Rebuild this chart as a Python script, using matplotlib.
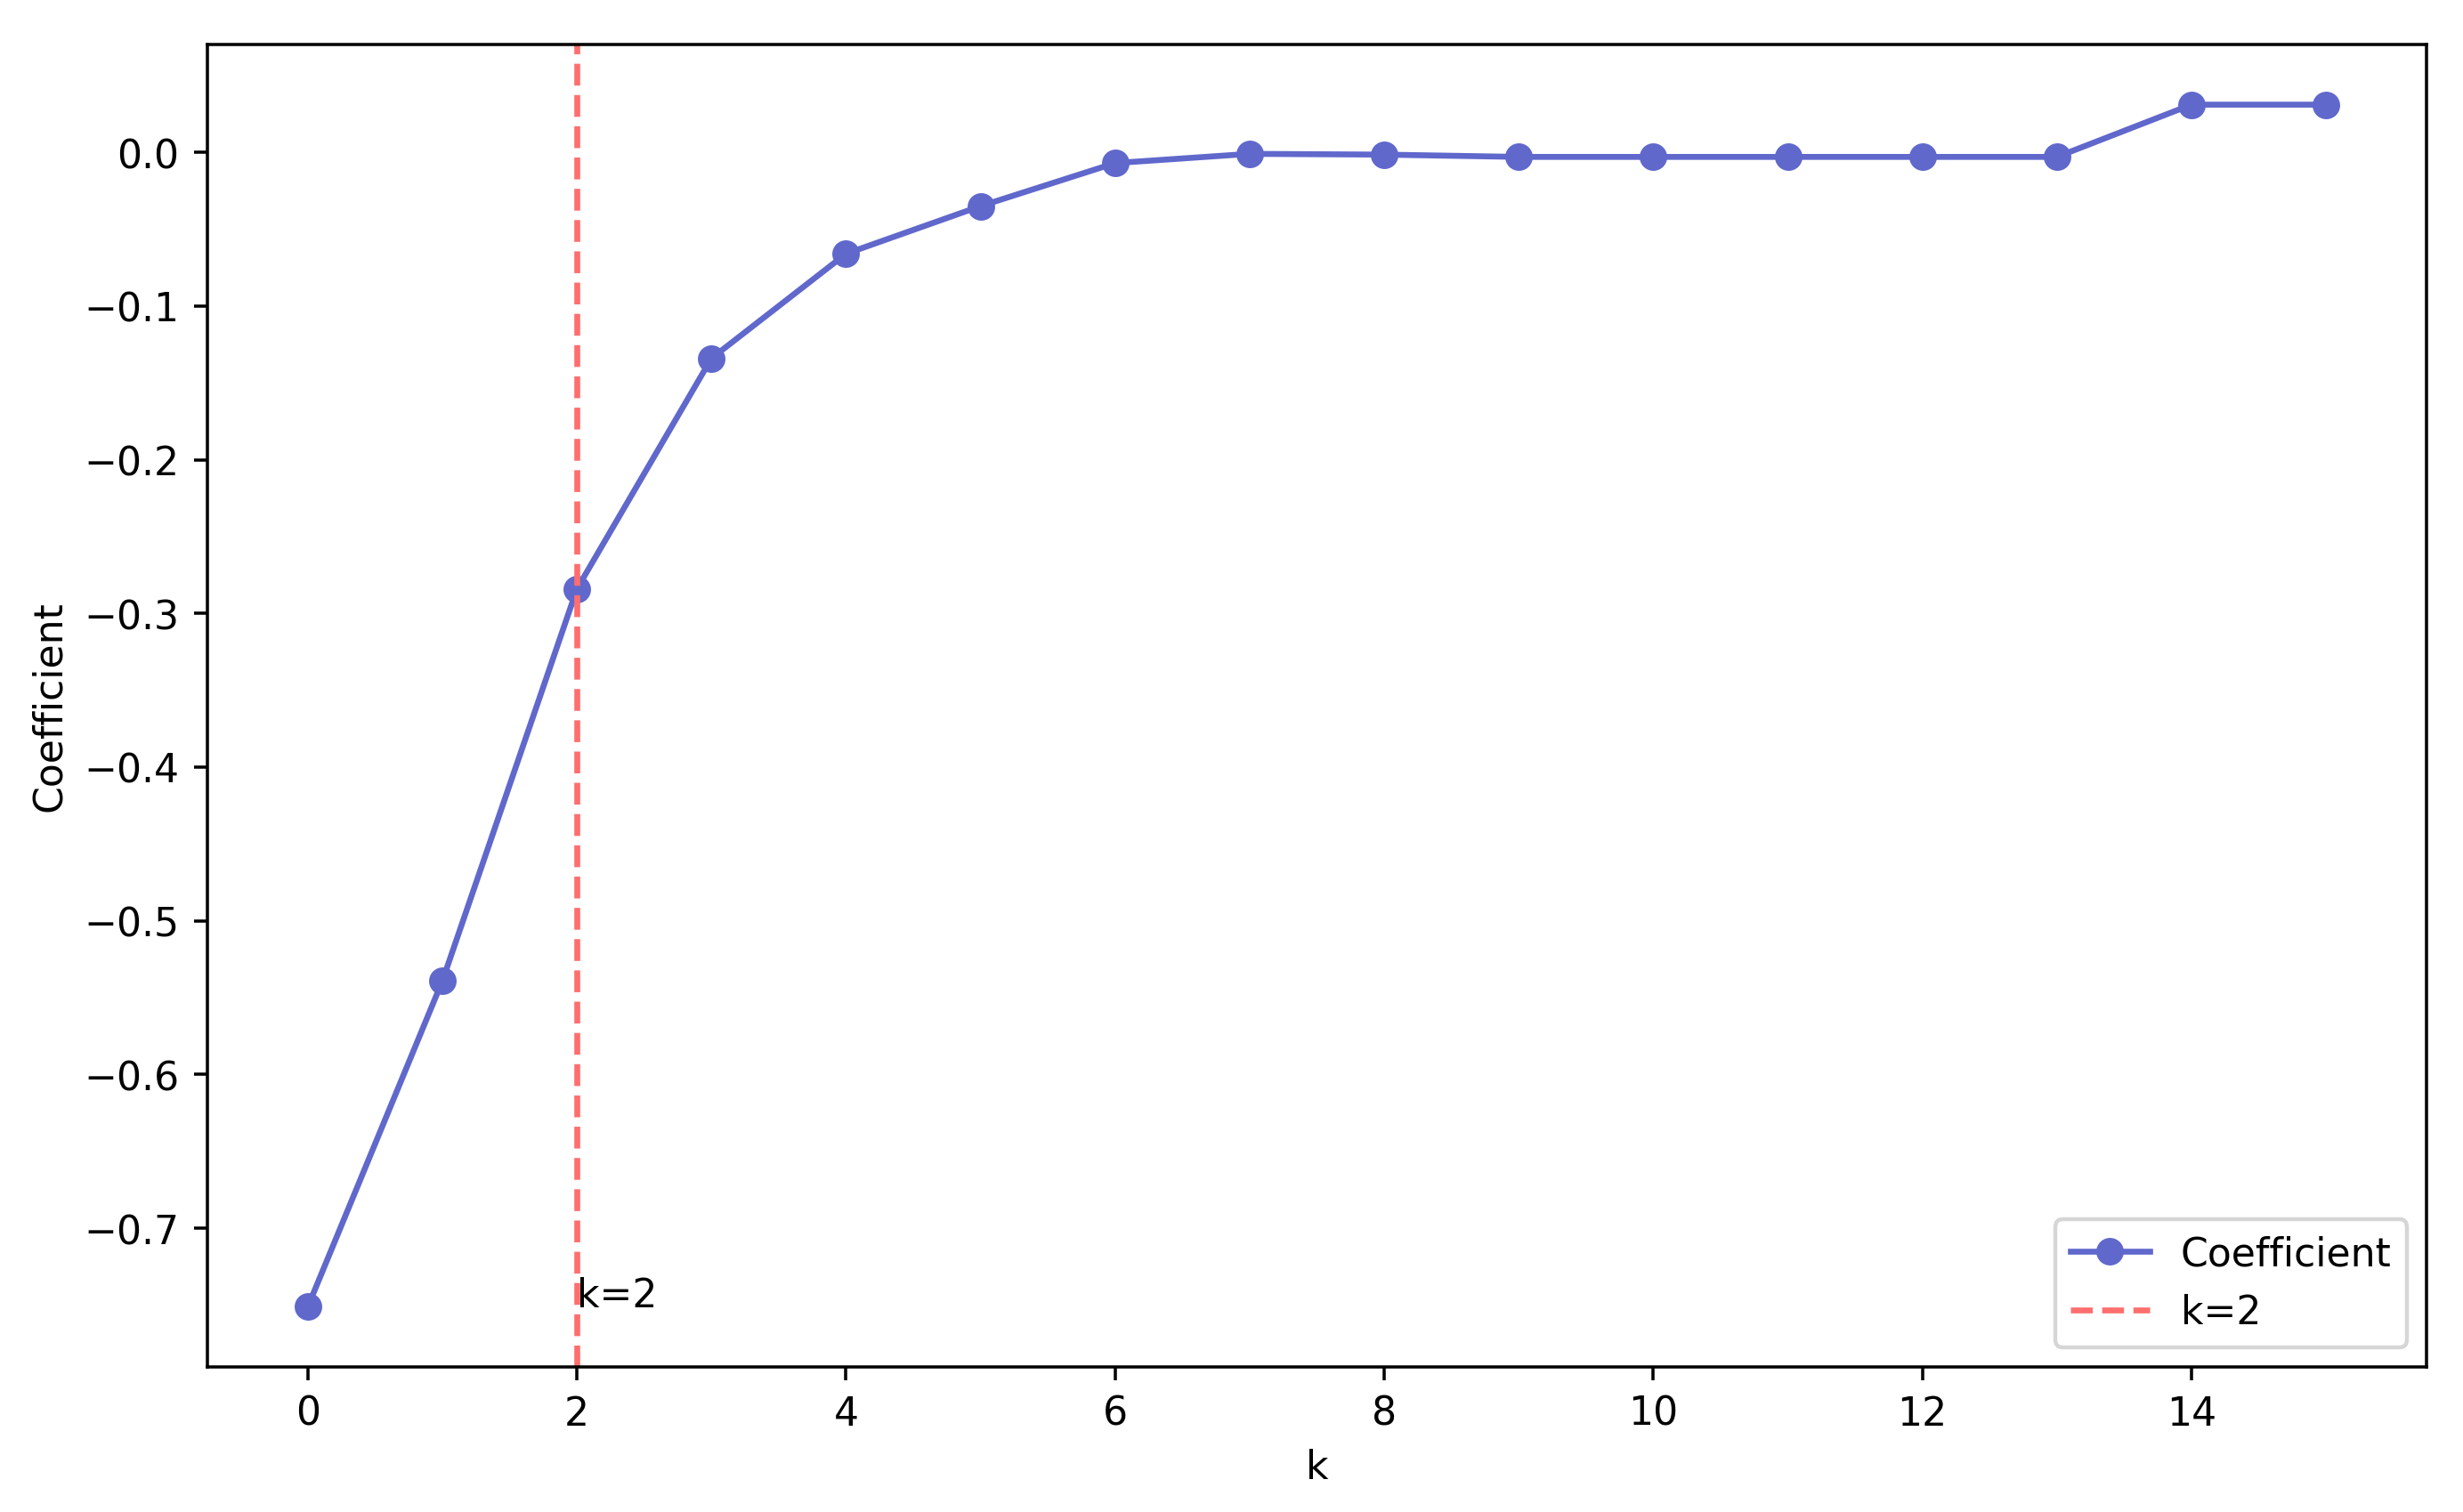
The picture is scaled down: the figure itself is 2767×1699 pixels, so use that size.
import matplotlib
matplotlib.use("Agg")
import matplotlib.pyplot as plt

# valores
k_vals = list(range(16))
coef = [-0.751, -0.539, -0.284, -0.134, -0.066, -0.035, -0.007, -0.001,
        -0.0015, -0.003, -0.003, -0.003, -0.003, -0.003, 0.031, 0.031]
k_corte = 2

fig = plt.figure(figsize=(8.7, 5.343), dpi=318.16)
plt.plot(k_vals, coef, marker='o', color='#6068CC', label='Coefficient')
plt.axvline(k_corte, color='#FF6E6E', linestyle='--', label=f'k={k_corte}')
plt.text(k_corte, coef[0], f'k={k_corte}')
plt.xlabel('k')
plt.ylabel('Coefficient')
plt.legend(loc='lower right')
plt.subplots_adjust(left=0.084, right=0.985, bottom=0.096, top=0.970)
plt.savefig('out.png')
